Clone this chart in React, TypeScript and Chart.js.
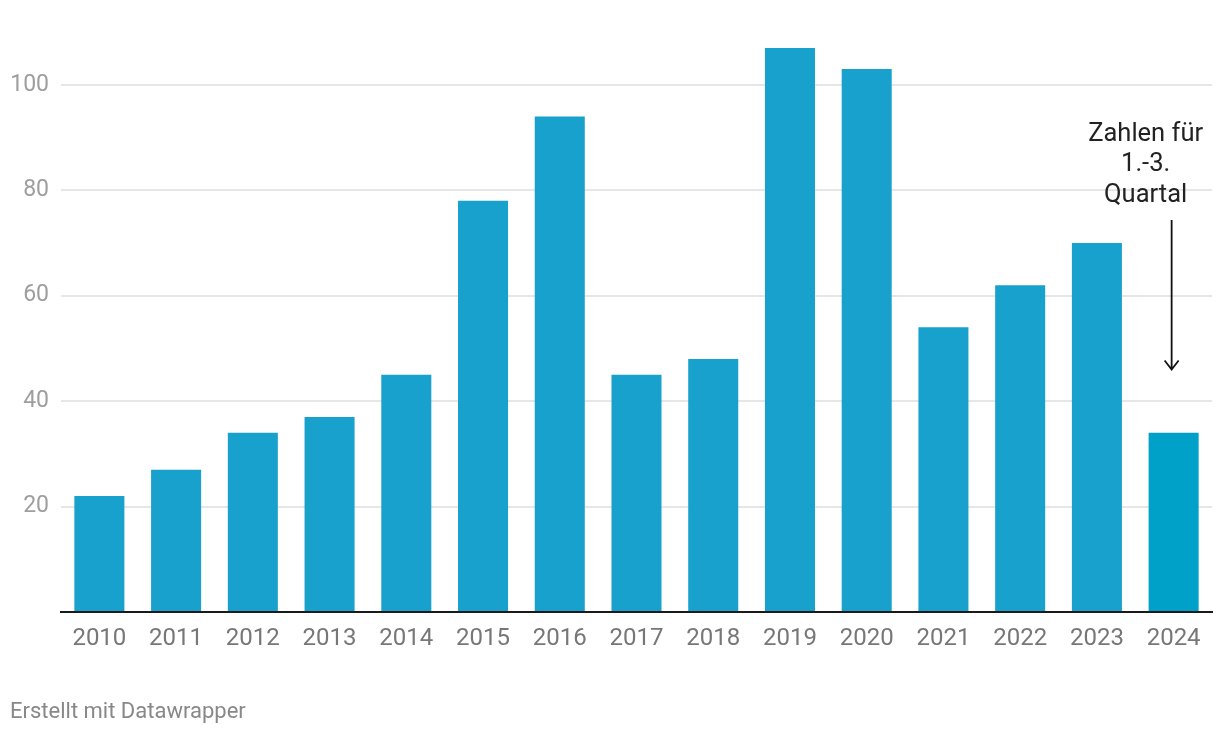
import React, { useEffect, useRef } from "react";
import { Chart, registerables } from "chart.js";

Chart.register(...registerables);

const years = ["2010", "2011", "2012", "2013", "2014", "2015", "2016", "2017", "2018", "2019", "2020", "2021", "2022", "2023", "2024"];
const values = [22, 27, 34, 37, 45, 78, 94, 45, 48, 107, 103, 54, 62, 70, 34];
const yTicks = [20, 40, 60, 80, 100];
const annotationLines = ["Zahlen für", "1.-3.", "Quartal"];
const footerText = "Erstellt mit Datawrapper";

const BAR = "#18a1cd";
const BAR_LAST = "#00a1c9";
const FONT = "Roboto, 'Noto Sans', sans-serif";

const annotationPlugin = {
  id: "annot",
  afterDraw(chart: any) {
    const ctx = chart.ctx;
    const x = chart.scales.x.getPixelForValue(years.length - 1);
    const yScale = chart.scales.y;
    ctx.save();
    ctx.fillStyle = "#222";
    ctx.font = `25.5px ${FONT}`;
    ctx.textAlign = "center";
    ctx.textBaseline = "middle";
    const tx = x - 28;
    annotationLines.forEach((l, i) => {
      ctx.fillText(l, tx, 134.5 + i * 30.5);
    });
    const ax = x - 2;
    const yTop = 220;
    const yBot = yScale.getPixelForValue(values[values.length - 1] + 12);
    ctx.strokeStyle = "#111";
    ctx.lineWidth = 1.8;
    ctx.beginPath();
    ctx.moveTo(ax, yTop);
    ctx.lineTo(ax, yBot);
    ctx.moveTo(ax - 7, yBot - 9);
    ctx.lineTo(ax, yBot);
    ctx.lineTo(ax + 7, yBot - 9);
    ctx.stroke();
    ctx.restore();
  },
};

export default function App() {
  const ref = useRef<HTMLCanvasElement | null>(null);
  useEffect(() => {
    document.body.style.margin = "0";
    const chart = new Chart(ref.current as HTMLCanvasElement, {
      type: "bar",
      data: {
        labels: years,
        datasets: [
          {
            data: values,
            backgroundColor: values.map((_, i) => (i === values.length - 1 ? BAR_LAST : BAR)),
            barPercentage: 0.652,
            categoryPercentage: 1,
          },
        ],
      },
      options: {
        responsive: false,
        animation: false,
        layout: { padding: { top: 48, right: 8, left: 0, bottom: 0 } },
        plugins: { legend: { display: false }, tooltip: { enabled: false } },
        scales: {
          x: {
            grid: { display: false, drawTicks: false },
            border: { color: "#1a1a1a", width: 2 },
            ticks: { color: "#777", font: { family: FONT, size: 24 }, padding: 13, maxRotation: 0, autoSkip: false },
            afterFit: (s: any) => {
              s.height = 122;
            },
          },
          y: {
            min: 0,
            max: 107,
            grid: {
              drawTicks: false,
              color: (c: any) => (c.tick && c.tick.value === 0 ? "rgba(0,0,0,0)" : "#e6e6e6"),
              lineWidth: 2,
            },
            border: { display: false },
            ticks: {
              stepSize: 20,
              includeBounds: false,
              padding: 12,
              color: "#9e9e9e",
              font: { family: FONT, size: 23 },
              callback: (v: any) => (yTicks.includes(Number(v)) ? String(v) : ""),
            },
            afterFit: (s: any) => {
              s.width = 61;
            },
          },
        },
      },
      plugins: [annotationPlugin],
    });
    return () => chart.destroy();
  }, []);
  return (
    <div style={{ position: "relative", width: 1220, height: 734, background: "#fff" }}>
      <canvas ref={ref} width={1220} height={734} style={{ display: "block" }} />
      <div
        style={{
          position: "absolute",
          left: 10,
          top: 697,
          fontFamily: FONT,
          fontSize: 22,
          color: "#888",
          lineHeight: "28px",
        }}
      >
        {footerText}
      </div>
    </div>
  );
}
